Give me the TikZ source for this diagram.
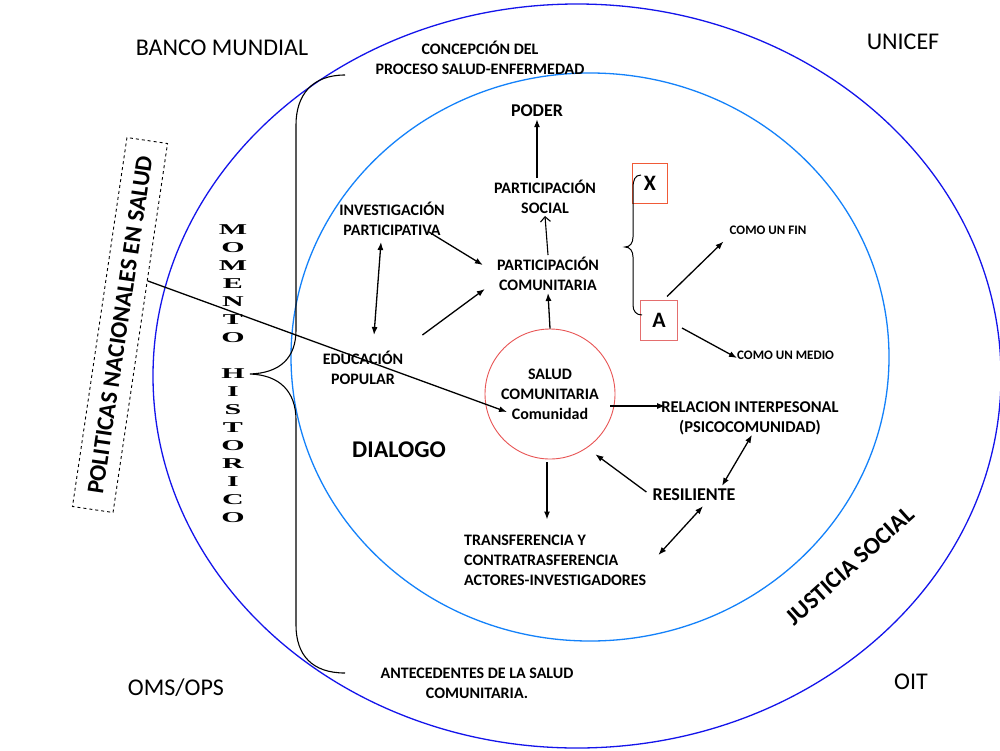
\documentclass[tikz,border=0pt]{standalone}
\usepackage{fontspec}
\setmainfont{Carlito}
\newfontfamily\wordart{Liberation Serif}
\usetikzlibrary{arrows.meta,calc}
\definecolor{outerblue}{RGB}{20,20,235}
\definecolor{innerblue}{RGB}{20,130,250}
\definecolor{circred}{RGB}{232,85,85}
\definecolor{xred}{RGB}{240,90,55}
\definecolor{ared}{RGB}{228,110,110}
\newcommand{\momtext}{\scalebox{2}[1]{\begin{tabular}{@{}c@{}}M\\O\\M\\E\\N\\T\\O\\[18pt]H\\I\\S\\T\\O\\R\\I\\C\\O\end{tabular}}}
\begin{document}
\begin{tikzpicture}[x=1pt,y=-1pt,
  lbl/.style={font=\bfseries\fontsize{16}{20}\selectfont, align=center, inner sep=2pt},
  lblbig/.style={font=\bfseries\fontsize{18}{22}\selectfont, align=center, inner sep=2pt},
  lblsmall/.style={font=\bfseries\fontsize{13}{16}\selectfont, inner sep=2pt},
  corner/.style={font=\fontsize{24}{28}\selectfont, inner sep=2pt},
  slanted/.style={font=\bfseries\fontsize{24}{28}\selectfont, inner sep=2pt},
  letterbox/.style={font=\bfseries\fontsize{22}{26}\selectfont, inner sep=0pt},
  arr/.style={-{Latex[length=8pt,width=6pt]}, line width=1.3pt},
  darr/.style={{Latex[length=8pt,width=6pt]}-{Latex[length=8pt,width=6pt]}, line width=1.3pt},
  oarr/.style={-{Straight Barb[length=5pt,width=10pt]}, line width=1.1pt},
  wa/.style={font=\wordart\bfseries\fontsize{15}{18}\selectfont, inner sep=0pt}
]
\fill[white] (0,0) rectangle (1000,750);
\useasboundingbox (0,0) rectangle (1000,750);

% ellipses
\draw[outerblue, line width=1.3pt] (577,376) ellipse [x radius=424, y radius=372];
\draw[innerblue, line width=1.3pt] (590,357) ellipse [x radius=299, y radius=284];

% corner labels
\node[corner] (bm) at (222,48) {BANCO MUNDIAL};
\node[corner] (unicef) at (903,42) {UNICEF};
\node[corner] (oms) at (176,688) {OMS/OPS};
\node[corner] (oit) at (911,682) {OIT};

% top/bottom labels
\node[lbl] (conc) at (480,58) {CONCEPCIÓN DEL\\PROCESO SALUD-ENFERMEDAD};
\node[lbl] (ant) at (477,683) {ANTECEDENTES DE LA SALUD\\COMUNITARIA.};

% big brace
\draw[line width=1.1pt] (345,75) .. controls (312,75) and (296,95) .. (296,125) -- (296,330)
  .. controls (296,358) and (280,373) .. (250,374)
  .. controls (280,375) and (296,392) .. (296,420) -- (296,625)
  .. controls (296,655) and (312,673) .. (345,673);

% MOMENTO HISTORICO
\node[wa] (mom) at (233,375) {\momtext};

% inner labels
\node[lblbig] (poder) at (537,111) {PODER};
\node[lbl] (ps) at (545,197) {PARTICIPACIÓN\\SOCIAL};
\node[lbl] (ip) at (392,219) {INVESTIGACIÓN\\PARTICIPATIVA};
\node[lbl] (pc) at (548,274) {PARTICIPACIÓN\\COMUNITARIA};
\node[lbl] (ep) at (363,368) {EDUCACIÓN\\POPULAR};
\node[font=\bfseries\fontsize{24}{28}\selectfont] (dial) at (399,450) {DIALOGO};
\node[circle, draw=circred, line width=0.9pt, minimum size=130pt, lbl] (sal) at (550,394) {SALUD\\COMUNITARIA\\Comunidad};
\node[lbl, font=\bfseries\fontsize{16.5}{20}\selectfont] (rel) at (750,418) {RELACION INTERPESONAL\\(PSICOCOMUNIDAD)};
\node[lblbig] (res) at (694,495) {RESILIENTE};
\node[lbl, align=left, anchor=west] (tra) at (462,560) {TRANSFERENCIA Y\\CONTRATRASFERENCIA\\ACTORES-INVESTIGADORES};

% X and A
\node[letterbox, draw=xred, line width=1pt, minimum width=35pt, minimum height=40pt] (xb) at (650,183) {X};
\node[letterbox, draw=ared, line width=1pt, minimum width=37pt, minimum height=40pt] (ab) at (659,320) {A};
\node[lblsmall] (fin) at (768,230) {COMO UN FIN};
\node[lblsmall, anchor=west] (med) at (735,355) {COMO UN MEDIO};

% small brace
\draw[line width=1pt] (641,175) .. controls (635,175) and (633,180) .. (633,188) -- (633,237)
  .. controls (633,243) and (630,247) .. (625,247)
  .. controls (630,247) and (633,251) .. (633,257) -- (633,305)
  .. controls (633,311) and (636,315) .. (642,315);

% rotated labels
\node[slanted, rotate=42] (just) at (850,566) {JUSTICIA SOCIAL};
\node[slanted, rotate=81.6, draw, dashed, line width=0.9pt, minimum width=373pt, minimum height=41pt, inner sep=0pt] (pns) at (120,325) {POLITICAS NACIONALES EN SALUD};

% connectors
\draw[arr] (ps.north -| poder.south) -- (poder.south);
\draw[oarr] (pc.north) -- (ps.south);
\draw[arr] (sal.north) -- (pc.south);
\draw[arr] ($(ip.south east)+(-18,-6)$) -- ($(pc.north west)+(-12,10)$);
\draw[arr] ($(ep.north east)+(17,-14)$) -- ($(pc.south west)+(-10,-4)$);
\draw[darr] ($(ip.south)+(-11,4)$) -- ($(ep.north)+(11,-14)$);
\draw[arr] ($(pns.south)!0.255!(pns.south east)$) -- ($(sal.center)+(-43,18)$);
\draw[arr] ($(sal.center)+(60,12)$) -- ($(rel.west)+(6,-12)$);
\draw[arr] ($(sal.south)+(-3,3)$) -- ($(sal.south |- tra.north)+(-3,-13)$);
\draw[arr] ($(res.west)+(-4,-3)$) -- ($(sal.-53)+(6,8)$);
\draw[darr] ($(res.north)+(28,-1)$) -- ($(rel.south)+(2,-2)$);
\draw[darr] ($(res.south)+(9,3)$) -- ($(tra.east)+(10,-5)$);
\draw[arr] ($(ab.north)+(8,-3)$) -- ($(fin.south west)+(-4,5)$);
\draw[arr] ($(ab.east)+(4,8)$) -- ($(med.west)+(2,3)$);
\end{tikzpicture}
\end{document}
